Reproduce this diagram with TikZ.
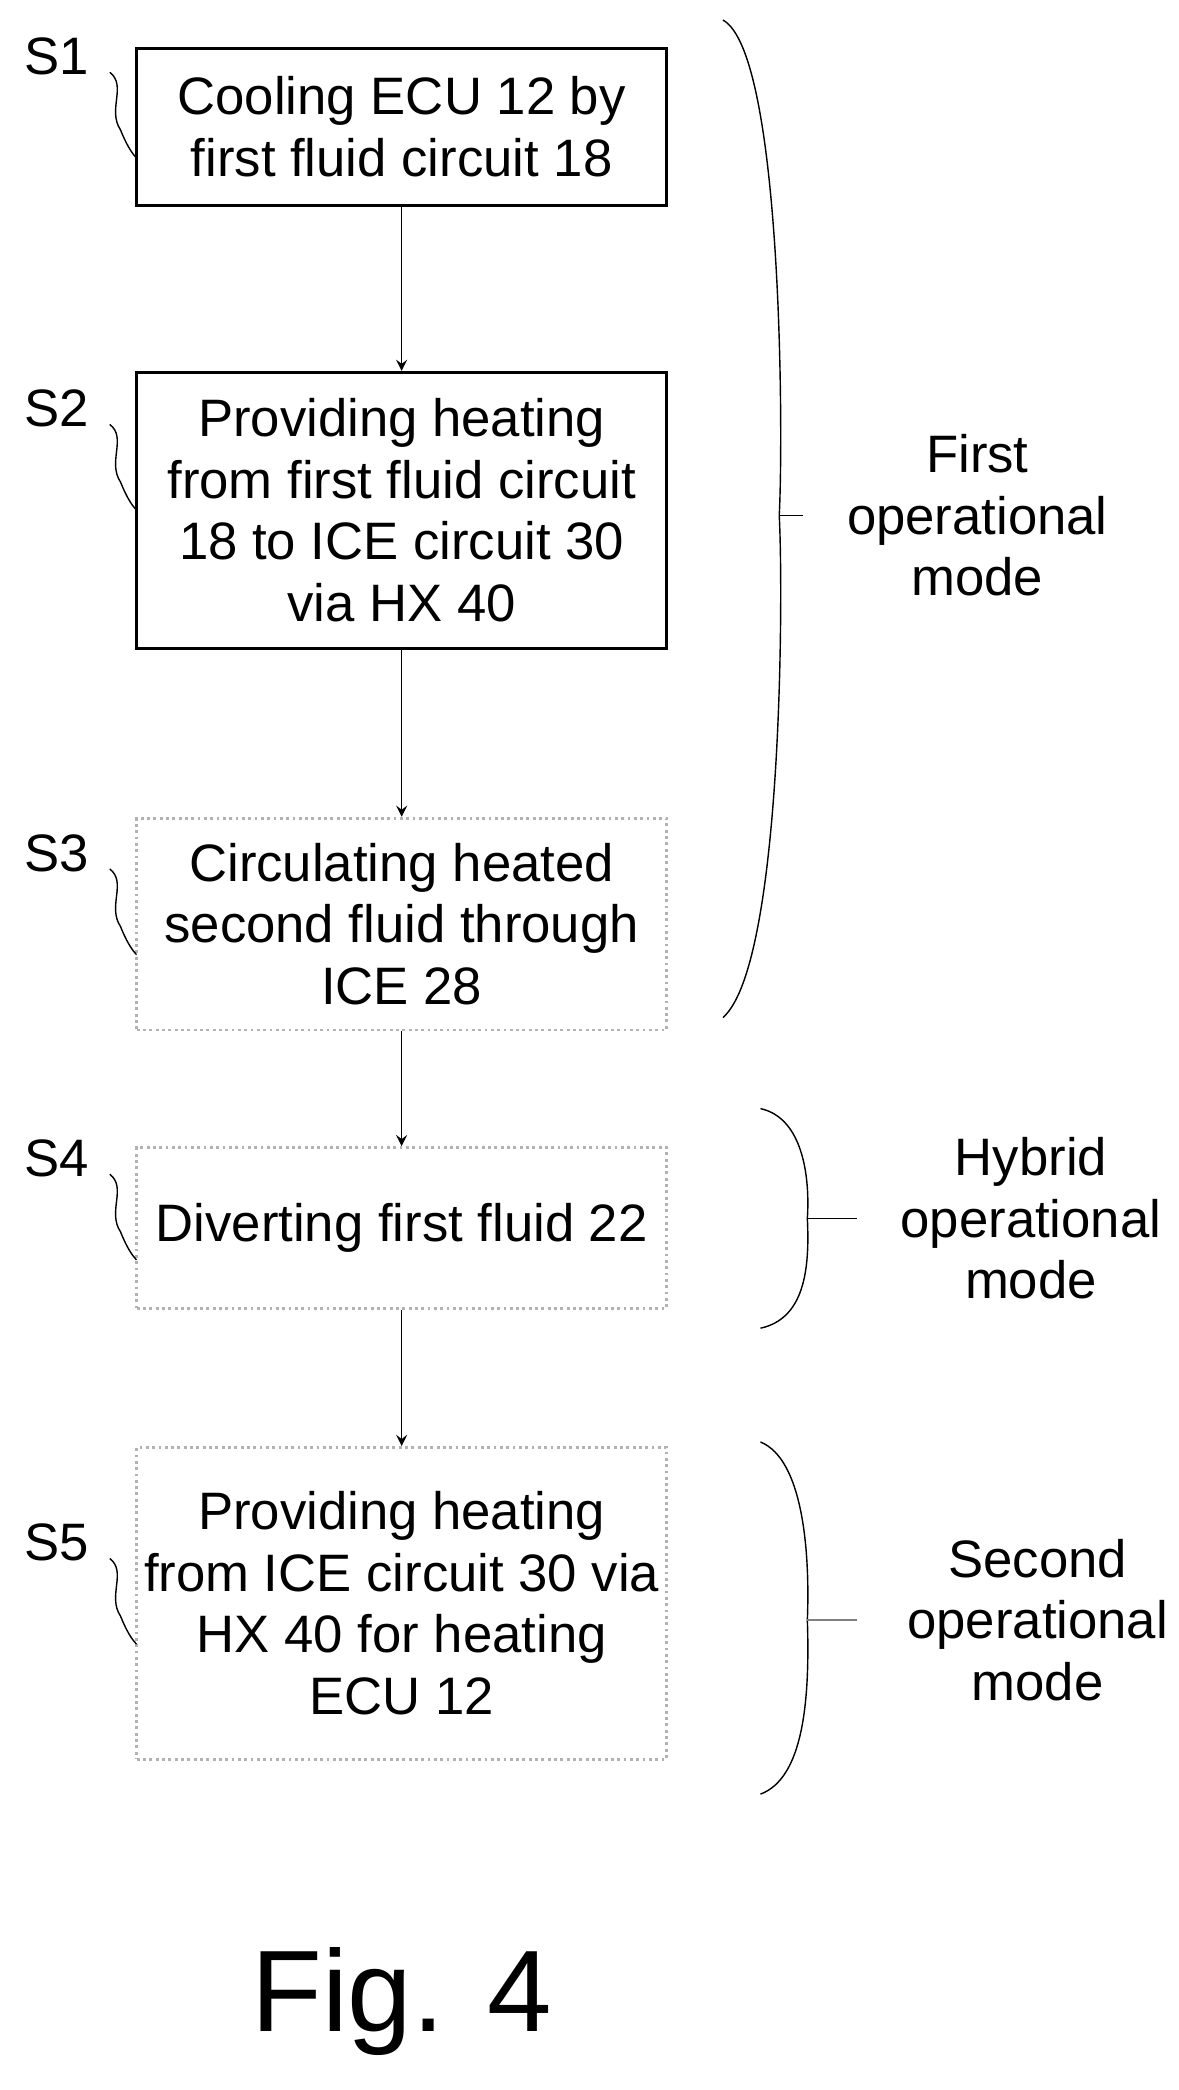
\documentclass[tikz,border=0pt]{standalone}
\usepackage{fontspec}
\setmainfont{Liberation Sans}
\usetikzlibrary{positioning}
\begin{document}
\begin{tikzpicture}[x=0.01339cm, y=-0.01339cm,
        stepbox/.style={rectangle, draw=black, thick, minimum width=5.30cm, inner xsep=2pt, align=center, font=\fontsize{15}{17.5}\selectfont, anchor=north},
        soft/.style={stepbox, draw=gray!60, densely dotted},
        tag/.style={font=\fontsize{15}{17.5}\selectfont},
        mode/.style={font=\fontsize{15}{17.5}\selectfont, align=center},
        line/.style={draw=black, thin},
        flow/.style={line, ->, >=stealth}
    ]
        \useasboundingbox (0,0) rectangle (880,1561);

        \node[stepbox, minimum height=1.57cm] (s1) at (300,35) {Cooling ECU 12 by\\first fluid circuit 18};
        \node[stepbox, minimum height=2.76cm] (s2) at (300,277) {Providing heating\\from first fluid circuit\\18 to ICE circuit 30\\via HX 40};
        \node[soft, minimum height=2.12cm] (s3) at (300,610) {Circulating heated\\second fluid through\\ICE 28};
        \node[soft, minimum height=1.61cm] (s4) at (300,856) {Diverting first fluid 22};
        \node[soft, minimum height=3.12cm] (s5) at (300,1080) {Providing heating\\from ICE circuit 30 via\\HX 40 for heating\\ECU 12};

        \draw[flow] (s1) -- (s2);
        \draw[flow] (s2) -- (s3);
        \draw[flow] (s3) -- (s4);
        \draw[flow] (s4) -- (s5);

        % step tags with squiggles
        \foreach \n/\y/\t in {s1/42/S1, s2/305/S2, s3/637/S3, s4/865/S4, s5/1152/S5} {
            \node[tag] (t\n) at (42,\y) {\t};
            \draw[line] (82,\y+12) .. controls (95,\y+22) and (80,\y+40) .. (90,\y+55) .. controls (94,\y+65) and (98,\y+72) .. (102,\y+76);
        }

        % mode braces
        \draw[line] (540,15) .. controls (585,40) and (585,330) .. (582,385) .. controls (585,440) and (585,720) .. (540,760);
        \draw[line] (582,385) -- (600,385);
        \node[mode] (first) at (730,385) {First\\operational\\mode};

        \draw[line] (568,828) .. controls (600,835) and (605,880) .. (603,910) .. controls (605,950) and (600,985) .. (568,992);
        \draw[line] (603,910) -- (640,910);
        \node[mode] (hybrid) at (770,910) {Hybrid\\operational\\mode};

        \draw[line] (568,1077) .. controls (600,1090) and (605,1160) .. (603,1210) .. controls (605,1270) and (600,1328) .. (568,1340);
        \draw[line, gray] (603,1210) -- (640,1210);
        \node[mode] (second) at (775,1210) {Second\\operational\\mode};

        \node[font=\fontsize{33}{36}\selectfont] (fig) at (300,1495) {Fig. 4};
    \end{tikzpicture}
\end{document}
